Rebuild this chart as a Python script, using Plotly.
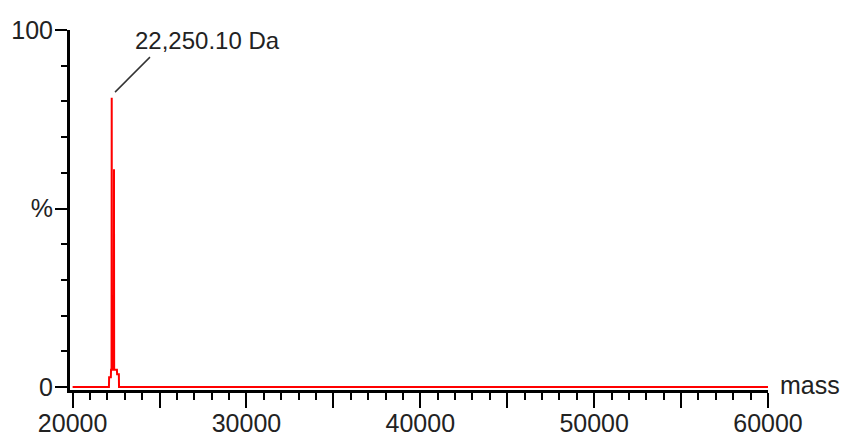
import plotly.graph_objects as go

# Spectrum data (mass in Da, relative intensity in %)
mass = [20000, 22090, 22100, 22200, 22210, 22240, 22250, 22260, 22370, 22380, 22390, 22550, 22560, 22660, 22670, 60000]
intensity = [0, 0, 2.7, 2.7, 4.8, 4.8, 81, 4.8, 4.8, 61, 4.8, 4.8, 3.6, 3.6, 0, 0]

peak_mass = 22250.10
peak_label = "22,250.10 Da"

x_major = [20000, 25000, 30000, 35000, 40000, 45000, 50000, 55000, 60000]
x_labels = ["20000", "", "30000", "", "40000", "", "50000", "", "60000"]
y_major = [0, 50, 100]
y_labels = ["0", "%", "100"]

FONT = "Liberation Sans, Arial, sans-serif"
TXT = "#222222"

fig = go.Figure()
fig.add_trace(go.Scatter(x=mass, y=intensity, mode="lines",
                         line=dict(color="#ff0000", width=2), hoverinfo="skip"))

# leader line from peak to label
fig.add_shape(type="line", x0=22440, y0=82.6, x1=24450, y1=92.4,
              line=dict(color="#333333", width=1.5))
fig.add_annotation(x=23450, y=97.2, text=peak_label, showarrow=False,
                   xanchor="left", yanchor="middle",
                   font=dict(family=FONT, size=24, color=TXT))
fig.add_annotation(xref="paper", x=1, y=0, text="mass", showarrow=False,
                   xanchor="left", yanchor="middle", xshift=10, yshift=2,
                   font=dict(family=FONT, size=25, color=TXT))

fig.update_layout(
    width=848, height=436,
    margin=dict(l=70, r=80, t=29.5, b=46, pad=0, autoexpand=False),
    paper_bgcolor="white", plot_bgcolor="white",
    showlegend=False,
    font=dict(family=FONT, size=24, color=TXT),
    xaxis=dict(range=[19850, 60000], showgrid=False, zeroline=False, automargin=False,
               showline=True, linecolor="black", linewidth=3,
               tickmode="array", tickvals=x_major, ticktext=x_labels,
               ticks="outside", ticklen=15, tickwidth=2, tickcolor="black",
               ticklabelstandoff=-6,
               minor=dict(dtick=1000, tick0=0, ticks="outside", ticklen=7,
                          tickwidth=2, tickcolor="black", showgrid=False),
               tickfont=dict(family=FONT, size=25, color=TXT)),
    yaxis=dict(range=[-0.84, 100], showgrid=False, zeroline=False, automargin=False,
               showline=True, linecolor="black", linewidth=3,
               tickmode="array", tickvals=y_major, ticktext=y_labels,
               ticks="outside", ticklen=12, tickwidth=2, tickcolor="black",
               ticklabelstandoff=-3,
               minor=dict(dtick=10, tick0=0, ticks="outside", ticklen=6,
                          tickwidth=2, tickcolor="black", showgrid=False),
               tickfont=dict(family=FONT, size=25, color=TXT)),
)

fig.write_html("out.html", config={"displayModeBar": False},
               post_script="document.body.style.margin='0';document.body.style.overflow='hidden';")
